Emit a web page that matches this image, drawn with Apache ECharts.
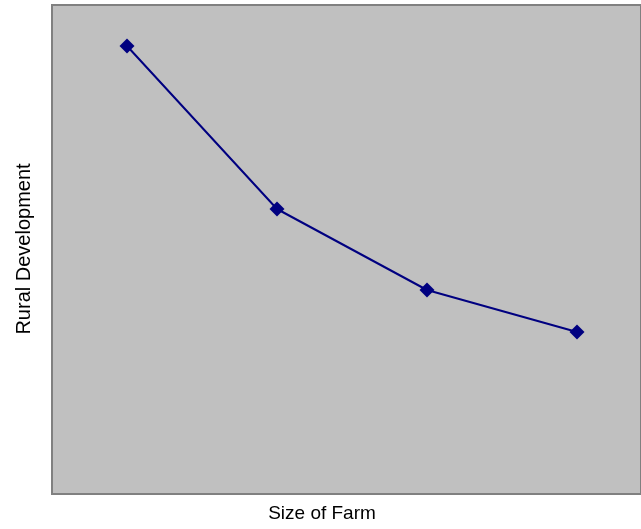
<!DOCTYPE html>
<html><head><meta charset="utf-8">
<script src="https://cdn.jsdelivr.net/npm/echarts@6/dist/echarts.min.js"></script>
<style>html,body{margin:0;padding:0;background:#fff}#c{width:641px;height:529px}</style>
</head><body><div id="c"></div>
<script>
var categories = ['1', '2', '3', '4'];
var ruralDevelopment = [448, 285, 204, 162];
var xTitle = 'Size of Farm';
var yTitle = 'Rural Development';

var seriesData = categories.map(function (c, i) { return [i + 1, ruralDevelopment[i]]; });

var chart = echarts.init(document.getElementById('c'), null, {renderer: 'canvas'});
chart.setOption({
  animation: false,
  grid: {left: 52, top: 5, right: 0, height: 489, show: true, backgroundColor: '#C0C0C0', borderColor: '#808080', borderWidth: 2},
  xAxis: {type: 'value', min: 0.5, max: 0.5 + 589 / 150,
    axisLine: {show: false}, axisTick: {show: false}, axisLabel: {show: false}, splitLine: {show: false}},
  yAxis: {type: 'value', min: 0, max: 489,
    axisLine: {show: false}, axisTick: {show: false}, axisLabel: {show: false}, splitLine: {show: false}},
  graphic: [
    {type: 'text', x: 322, y: 514,
      style: {text: xTitle, fontFamily: 'Liberation Sans', fontSize: 19, fill: '#000', textAlign: 'center', textVerticalAlign: 'middle'}},
    {type: 'text', x: 24, y: 249, rotation: Math.PI / 2,
      style: {text: yTitle, fontFamily: 'Liberation Sans', fontSize: 20, fill: '#000', textAlign: 'center', textVerticalAlign: 'middle'}}
  ],
  series: [{type: 'line', data: seriesData, symbol: 'diamond', symbolSize: 15,
    lineStyle: {color: '#000080', width: 2}, itemStyle: {color: '#000080'}}]
});
</script></body></html>
